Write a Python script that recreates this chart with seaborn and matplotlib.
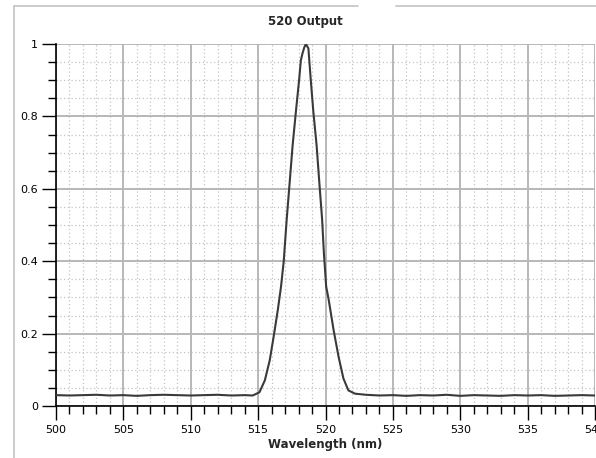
import matplotlib
matplotlib.use("Agg")
import matplotlib.pyplot as plt
from matplotlib.lines import Line2D
from matplotlib.ticker import MultipleLocator, FormatStrFormatter, FuncFormatter
import seaborn as sns
import pandas as pd

# ---- data ----
wavelength = [500, 501, 502, 503, 504, 505, 506, 507, 508, 509, 510, 511, 512, 513, 514, 514.6,
              515.1, 515.5, 515.86, 516.15, 516.46, 516.7, 516.9, 517.12, 517.32, 517.56, 517.8,
              518.05, 518.17, 518.3, 518.42, 518.54, 518.73, 518.9, 519.1, 519.34, 519.56, 519.75,
              519.88, 520.05, 520.24, 520.6, 520.97, 521.33, 521.7, 522.2, 523,
              524, 525, 526, 527, 528, 529, 530, 531, 532, 533, 534, 535, 536, 537, 538, 539, 540]
intensity = [0.030, 0.029, 0.030, 0.031, 0.029, 0.030, 0.028, 0.030, 0.031, 0.030, 0.029, 0.030, 0.031, 0.029, 0.030, 0.029,
             0.038, 0.071, 0.126, 0.191, 0.265, 0.330, 0.400, 0.515, 0.608, 0.720, 0.812,
             0.904, 0.955, 0.975, 0.990, 1.000, 0.988, 0.904, 0.812, 0.720, 0.608, 0.515,
             0.423, 0.330, 0.293, 0.210, 0.136, 0.076, 0.043, 0.034, 0.031,
             0.029, 0.030, 0.028, 0.030, 0.029, 0.031, 0.028, 0.030, 0.029, 0.028, 0.030, 0.029, 0.030, 0.028, 0.029, 0.030, 0.029]
x_ticks = [500, 505, 510, 515, 520, 525, 530, 535, 540]
y_ticks = [0, 0.2, 0.4, 0.6, 0.8, 1.0]
title = "520 Output"
x_label = "Wavelength (nm)"

df = pd.DataFrame({"Wavelength": wavelength, "Intensity": intensity})

sns.set_style("white")
plt.rcParams["font.family"] = ["DejaVu Sans"]

W, H = 596, 458
fig = plt.figure(figsize=(W / 100, H / 100), dpi=100)
ax_left, ax_right = 56 / W, 595 / W
ax_bottom, ax_top = (H - 406) / H, (H - 44) / H
ax = fig.add_axes([ax_left, ax_bottom, ax_right - ax_left, ax_top - ax_bottom])

sns.lineplot(data=df, x="Wavelength", y="Intensity", ax=ax, color="#3a3a3a",
             linewidth=1.5, zorder=5)

ax.set_xlim(500, 540)
ax.set_ylim(0, 1)
ax.set_xticks(x_ticks)
ax.set_yticks(y_ticks)
ax.xaxis.set_minor_locator(MultipleLocator(1))
ax.yaxis.set_minor_locator(MultipleLocator(0.05))
ax.yaxis.set_major_formatter(FuncFormatter(lambda v, p: f"{v:g}"))
ax.xaxis.set_major_formatter(FormatStrFormatter("%d"))

ax.grid(which="major", color="#b8b8b8", linestyle="-", linewidth=1.4, zorder=1)
ax.grid(which="minor", color="#c4c4c4", linestyle=(0, (1, 2)), linewidth=0.9, zorder=1)
ax.set_axisbelow(True)

for s in ["top", "right"]:
    ax.spines[s].set_visible(False)
for s in ["left", "bottom"]:
    ax.spines[s].set_color("#000000")
    ax.spines[s].set_linewidth(1.2)

ax.tick_params(axis="both", which="both", bottom=True, left=True, top=False, right=False)
ax.tick_params(axis="both", which="major", direction="out", length=10, width=1.0,
               color="#000000", labelsize=8, labelcolor="#000000", pad=3)
ax.tick_params(axis="both", which="minor", direction="out", length=6, width=1.0,
               color="#000000")
ax.tick_params(axis="x", which="major", pad=4)

ax.set_xlabel(x_label, fontsize=8.5, fontweight="bold", labelpad=2)
ax.set_ylabel("")
fig.text(305 / W, 1 - 22 / H, title, ha="center", va="center", fontsize=8.5,
         fontweight="bold")

# outer group-box frame
frame_c = "#c4c4c4"
fig.add_artist(Line2D([14 / W, 14 / W], [0, 1 - 6 / H], color=frame_c, linewidth=1.2,
                      transform=fig.transFigure))
fig.add_artist(Line2D([14 / W, 358 / W], [1 - 6 / H, 1 - 6 / H], color=frame_c, linewidth=1.2,
                      transform=fig.transFigure))
fig.add_artist(Line2D([396 / W, 1.0], [1 - 6 / H, 1 - 6 / H], color=frame_c, linewidth=1.2,
                      transform=fig.transFigure))

fig.savefig("out.png", dpi=100)
